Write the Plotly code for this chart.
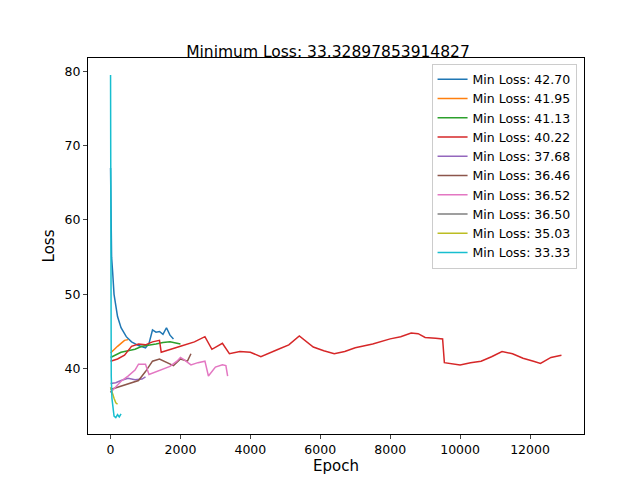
import plotly.graph_objects as go

colors = ["#1f77b4", "#ff7f0e", "#2ca02c", "#d62728", "#9467bd",
          "#8c564b", "#e377c2", "#7f7f7f", "#bcbd22", "#17becf"]
names = ["Min Loss: 42.70", "Min Loss: 41.95", "Min Loss: 41.13", "Min Loss: 40.22",
         "Min Loss: 37.68", "Min Loss: 36.46", "Min Loss: 36.52", "Min Loss: 36.50",
         "Min Loss: 35.03", "Min Loss: 33.33"]

x0 = [0, 10, 30, 60, 100, 200, 300, 450, 600, 800, 1000, 1100, 1200, 1300, 1400, 1500, 1600, 1700, 1800]
y0 = [67, 59, 55, 53, 50, 47, 45.5, 44.3, 43.6, 43.1, 42.8, 43.4, 45.2, 44.9, 45.0, 44.6, 45.5, 44.5, 44.0]
x1 = [0, 100, 200, 300, 400, 500]
y1 = [42.1, 42.6, 43.0, 43.4, 43.8, 43.9]
x2 = [0, 150, 300, 500, 700, 900, 1100, 1300, 1500, 1700, 1900, 2000]
y2 = [41.5, 41.8, 42.2, 42.4, 42.6, 43.0, 43.1, 43.3, 43.5, 43.6, 43.4, 43.3]
x3 = [0, 200, 400, 600, 800, 1000, 1200, 1400, 1450, 1700, 2000, 2400, 2700, 2900, 3200, 3400, 3700,
      4000, 4300, 4800, 5100, 5400, 5600, 5800, 6100, 6400, 6700, 7000, 7500, 8000, 8300, 8600,
      8800, 9000, 9300, 9500, 9550, 9800, 10000, 10300, 10600, 10900, 11200, 11500, 11800, 12100,
      12300, 12600, 12900]
y3 = [41.0, 41.3, 41.8, 43.0, 43.3, 43.2, 43.6, 43.8, 42.2, 42.6, 43.0, 43.6, 44.3, 42.6, 43.4, 42.0,
      42.3, 42.2, 41.6, 42.6, 43.2, 44.4, 43.6, 42.9, 42.4, 42.0, 42.3, 42.8, 43.3, 44.0, 44.3, 44.8,
      44.7, 44.2, 44.1, 44.0, 40.8, 40.6, 40.5, 40.8, 41.0, 41.6, 42.3, 42.0, 41.4, 41.0, 40.7,
      41.5, 41.8]
x4 = [0, 150, 300, 500, 700, 900, 1000]
y4 = [38.0, 38.1, 38.4, 38.7, 38.5, 38.6, 38.9]
x5 = [0, 200, 400, 600, 800, 1000, 1200, 1400, 1600, 1800, 2000, 2200, 2300]
y5 = [37.2, 37.5, 37.8, 38.0, 38.4, 39.6, 41.0, 41.3, 40.8, 40.4, 41.3, 41.0, 42.0]
x6 = [0, 150, 300, 500, 700, 800, 1000, 1100, 1300, 1500, 1700, 1900, 2000, 2100, 2300, 2500,
      2700, 2800, 3000, 3200, 3300, 3350]
y6 = [36.8, 37.5, 38.3, 39.0, 39.8, 40.6, 40.6, 39.2, 39.6, 40.0, 40.3, 41.0, 41.5, 41.2, 40.5, 40.8,
      41.0, 39.0, 40.2, 40.5, 40.4, 39.0]
x7 = [0, 20, 40, 60]
y7 = [37.0, 36.8, 36.6, 36.5]
x8 = [0, 50, 100, 150, 200]
y8 = [37.5, 36.6, 36.0, 35.4, 35.2]
x9 = [0, 5, 10, 20, 40, 70, 100, 150, 200, 250, 300]
y9 = [79.5, 60.0, 45.0, 39.0, 36.0, 34.5, 33.6, 33.4, 33.8, 33.5, 33.9]

xticks = [0, 2000, 4000, 6000, 8000, 10000, 12000]
xs = [x0, x1, x2, x3, x4, x5, x6, x7, x8, x9]
ys = [y0, y1, y2, y3, y4, y5, y6, y7, y8, y9]

fig = go.Figure()
for x, y, n, c in zip(xs, ys, names, colors):
    fig.add_trace(go.Scatter(x=x, y=y, mode="lines", name=n, line=dict(color=c, width=1.5)))

axis = dict(showline=True, linecolor="black", mirror=True, ticks="outside", ticklen=4,
            showgrid=False, zeroline=False, tickfont=dict(size=12.5), automargin=False)
fig.update_layout(
    width=640, height=480, plot_bgcolor="white", paper_bgcolor="white",
    font=dict(family="DejaVu Sans", color="black", size=12.5),
    title=dict(text="Minimum Loss: 33.32897853914827", x=0.5, xanchor="center",
               y=0.91, yanchor="middle", font=dict(size=15.5)),
    margin=dict(l=80, r=64, t=50, b=54),
    xaxis=dict(axis, title=dict(text="Epoch", standoff=4), range=[-645, 13545],
               tickvals=xticks, ticktext=[str(t) for t in xticks]),
    yaxis=dict(axis, title=dict(text="Loss", standoff=6), range=[31.2, 81.8],
               tickvals=[40, 50, 60, 70, 80]),
    legend=dict(x=0.985, y=0.985, xanchor="right", yanchor="top", bordercolor="#ccc", borderwidth=1,
                bgcolor="rgba(255,255,255,0.8)", font=dict(size=12.5), tracegroupgap=0),
    showlegend=True,
)
fig.write_html("out.html")
